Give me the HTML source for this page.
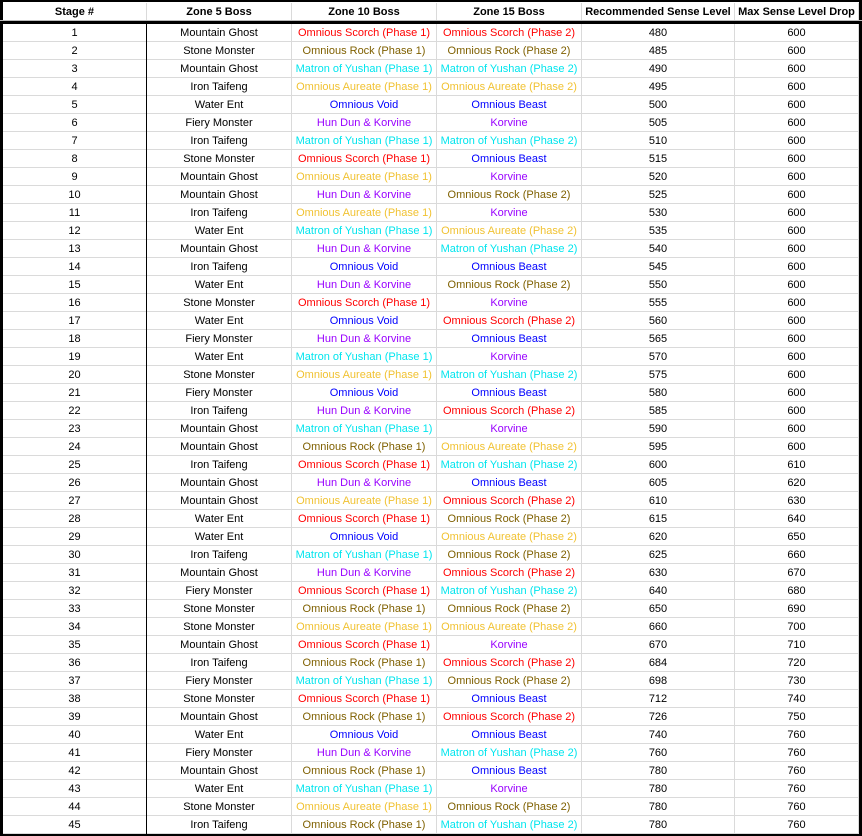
<!DOCTYPE html>
<html><head><meta charset="utf-8"><style>
body{margin:0;width:862px;height:836px;background:#fff;position:relative;overflow:hidden;font-family:"Liberation Sans",Arial,sans-serif;font-size:11px;}
.c{position:absolute;height:18px;line-height:19px;text-align:center;white-space:nowrap;overflow:hidden;box-sizing:border-box;border-bottom:1px solid #dadada;border-right:1px solid #dadada;}
.h{position:absolute;top:3px;height:17px;line-height:19px;text-align:center;font-weight:bold;box-sizing:border-box;border-right:1px solid #dadada;white-space:nowrap;overflow:hidden;}
.bar{position:absolute;background:#000;}
</style></head><body>
<div class="bar" style="left:0;top:0;width:862px;height:2px"></div>
<div class="bar" style="left:0;top:0;width:3px;height:836px"></div>
<div class="bar" style="left:859px;top:0;width:3px;height:836px"></div>
<div class="bar" style="left:0;top:834px;width:862px;height:2px"></div>
<div style="position:absolute;left:0;top:20px;width:862px;height:1px;background:#bbb"></div>
<div class="bar" style="left:0;top:21px;width:862px;height:3px"></div>
<div id="hdr"></div><div id="body"></div>
<div class="bar" style="left:146px;top:24px;width:1px;height:810px"></div>
<script>
const zone5=["MG","SM","MG","IT","WE","FM","IT","SM","MG","MG","IT","WE","MG","IT","WE","SM","WE","FM","WE","SM","FM","IT","MG","MG","IT","MG","MG","WE","WE","IT","MG","FM","SM","SM","MG","IT","FM","SM","MG","WE","FM","MG","WE","SM","IT"];
const zone10=["S","R","M","A","V","H","M","S","A","H","A","M","H","V","H","S","V","H","M","A","V","H","M","R","S","H","A","S","V","M","H","S","R","A","S","R","M","S","R","V","H","R","M","A","R"];
const zone15=["S","R","M","A","B","K","M","B","K","R","K","A","M","B","R","K","S","B","K","M","B","S","K","A","M","B","S","R","A","R","S","M","R","A","K","S","R","B","S","B","M","B","K","R","M"];
const recLevel=[480,485,490,495,500,505,510,515,520,525,530,535,540,545,550,555,560,565,570,575,580,585,590,595,600,605,610,615,620,625,630,640,650,660,670,684,698,712,726,740,760,780,780,780,780];
const maxDrop=[600,600,600,600,600,600,600,600,600,600,600,600,600,600,600,600,600,600,600,600,600,600,600,600,610,620,630,640,650,660,670,680,690,700,710,720,730,740,750,760,760,760,760,760,760];
const headers=["Stage #","Zone 5 Boss","Zone 10 Boss","Zone 15 Boss","Recommended Sense Level","Max Sense Level Drop"];
const z5names={MG:"Mountain Ghost",SM:"Stone Monster",IT:"Iron Taifeng",WE:"Water Ent",FM:"Fiery Monster"};
const bossNames={S:"Omnious Scorch",R:"Omnious Rock",M:"Matron of Yushan",A:"Omnious Aureate",V:"Omnious Void",H:"Hun Dun &amp; Korvine",B:"Omnious Beast",K:"Korvine"};
const bossColors={S:"#ff0000",R:"#7f6000",M:"#00e5ee",A:"#f1c232",V:"#0000ff",H:"#9900ff",B:"#0000ff",K:"#9900ff"};
const phased={S:1,R:1,M:1,A:1};
const colX=[3,147,292,437,582,735,859];
const hdr=document.getElementById('hdr');
headers.forEach((t,i)=>{
  const d=document.createElement('div');
  d.className='h';
  d.style.left=colX[i]+'px';d.style.width=(colX[i+1]-colX[i])+'px';
  d.textContent=t;
  
  
  hdr.appendChild(d);
});
const body=document.getElementById('body');
const colNames=['stage-cell','zone5-cell','zone10-cell','zone15-cell','recommended-level-cell','max-drop-cell'];
for(let r=0;r<zone5.length;r++){
  const vals=[String(r+1),z5names[zone5[r]],null,null,String(recLevel[r]),String(maxDrop[r])];
  for(let c=0;c<6;c++){
    const d=document.createElement('div');
    d.className='c';
    d.style.left=colX[c]+'px';d.style.width=(colX[c+1]-colX[c])+'px';
    d.style.top=(24+r*18)+'px';
    if(c===2||c===3){
      const k=c===2?zone10[r]:zone15[r];
      d.style.color=bossColors[k];
      d.innerHTML=bossNames[k]+(phased[k]?' (Phase '+(c===2?1:2)+')':'');
    } else { d.textContent=vals[c]; d.style.color='#000'; }
    
    
    body.appendChild(d);
  }
}
</script>
</body></html>
